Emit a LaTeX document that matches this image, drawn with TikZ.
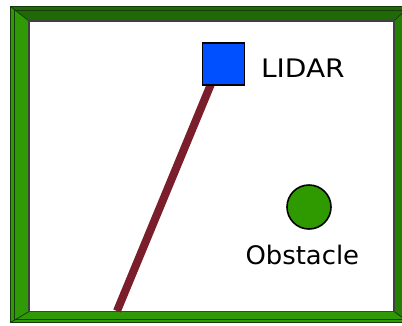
\documentclass[tikz,border=0pt]{standalone}
\usepackage{fontspec}
\setmainfont{DejaVu Sans}
\definecolor{frameLight}{HTML}{2F9A05}
\definecolor{frameDark}{HTML}{1F6A06}
\definecolor{frameMid}{HTML}{267F05}
\definecolor{frameEdge}{HTML}{143C0A}
\definecolor{lidarBlue}{HTML}{0050FF}
\definecolor{beamRed}{HTML}{7A1E2B}
\definecolor{obstGreen}{HTML}{2E9A00}
\tikzset{
  label text/.style={inner sep=0pt, anchor=base west, font=\fontsize{25.5}{30}\selectfont},
  band/.style={draw=frameEdge, line width=0.8pt, line join=miter},
  sensor/.style={draw=black, line width=1.3pt, fill=lidarBlue, minimum size=42pt, inner sep=0pt},
}
\begin{document}
\begin{tikzpicture}[x=1pt,y=-1pt]
\useasboundingbox (0,0) rectangle (402,325);
% room walls: four bevelled bands
\def\ox{10.5}\def\oy{6.5}\def\OX{409}\def\OY{322.5}
\def\ix{29}\def\iy{21}\def\IX{394}\def\IY{311.5}
\fill[frameDark] (\ox,\oy) -- (\OX,\oy) -- (\IX,\iy) -- (\ix,\iy) -- cycle;
\fill[frameLight] (\ox,\oy) -- (\ix,\iy) -- (\ix,\IY) -- (\ox,\OY) -- cycle;
\fill[frameLight] (\ox,\OY) -- (\ix,\IY) -- (\IX,\IY) -- (\OX,\OY) -- cycle;
\fill[frameMid] (\OX,\oy) -- (\IX,\iy) -- (\IX,\IY) -- (\OX,\OY) -- cycle;
\draw[band] (\ox,\oy) rectangle (\OX,\OY);
\draw[band] (\ox+4,\oy+3.5) rectangle (\OX-4,\OY-3.5);
\draw[band] (\ox,\oy) -- (\ix,\iy) (\ix,\IY) -- (\ox,\OY) (\IX,\iy) -- (\OX,\oy) (\IX,\IY) -- (\OX,\OY);
\fill[white] (\ix,\iy) rectangle (\IX,\IY);
\draw[black!75, line width=1.2pt] (\ix,\iy) rectangle (\IX,\IY);
% sensor, beam and obstacle
\coordinate (hit) at (117,311);
\node[sensor] (lidar) at (223.5,64) {};
\draw[beamRed, line width=8pt] (211,84) -- (hit);
\node[sensor] at (lidar.center) {};
\node[circle, draw=black, line width=1.6pt, fill=obstGreen, minimum size=44pt, inner sep=0pt] (obst) at (309,207) {};
\node[label text] (lidarlbl) at (260.8,77.3) {\addfontfeatures{FakeStretch=1.1}LIDAR};
\node[label text] (obstlbl) at (245.3,264.3) {\addfontfeatures{FakeStretch=1.015}Obstacle};
\end{tikzpicture}
\end{document}
